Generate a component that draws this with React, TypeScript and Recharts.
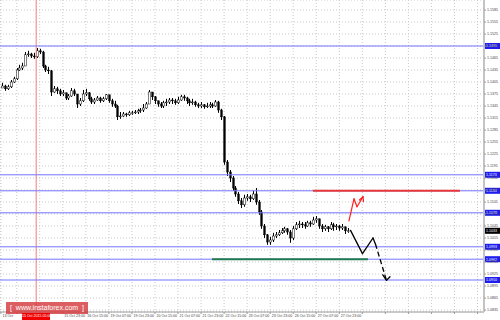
import React from 'react';
import { ComposedChart, Bar, XAxis, YAxis, CartesianGrid, ReferenceLine } from 'recharts';

// EUR/USD, 2-hour candles; open of each candle is the previous close
const closes = [
	1.1395, 1.1388, 1.1393, 1.1405, 1.1413, 1.1435, 1.144, 1.1445, 1.1473, 1.1475,
	1.147, 1.1468, 1.1483, 1.148, 1.1445, 1.1435, 1.1433, 1.138, 1.1388, 1.1383,
	1.1375, 1.1378, 1.1365, 1.137, 1.1383, 1.1375, 1.135, 1.1358, 1.1375, 1.1378,
	1.1363, 1.1355, 1.136, 1.1365, 1.1358, 1.1363, 1.1373, 1.1358, 1.135, 1.1345,
	1.1318, 1.132, 1.1325, 1.1323, 1.1328, 1.1328, 1.133, 1.1333, 1.1335, 1.134,
	1.135, 1.138, 1.1368, 1.1358, 1.135, 1.1345, 1.1353, 1.1355, 1.136, 1.1358,
	1.1353, 1.136, 1.1368, 1.1365, 1.1358, 1.1353, 1.1355, 1.1348, 1.1345, 1.1348,
	1.1343, 1.1345, 1.1348, 1.1345, 1.1355, 1.1335, 1.1318, 1.1205, 1.118, 1.1165,
	1.114, 1.1125, 1.1108, 1.1098, 1.1115, 1.1118, 1.1113, 1.1125, 1.1105, 1.108,
	1.1045, 1.1023, 1.1005, 1.101, 1.102, 1.1023, 1.1028, 1.1033, 1.1038, 1.103,
	1.1015, 1.1038, 1.1048, 1.105, 1.1048, 1.1045, 1.1053, 1.105, 1.106, 1.1063,
	1.1045, 1.1038, 1.1043, 1.1038, 1.1048, 1.1043, 1.1045, 1.104, 1.1043, 1.1033,
	1.1033,
];
const highs = [
	1.1403, 1.1398, 1.1398, 1.141, 1.1418, 1.144, 1.1448, 1.1453, 1.148, 1.1483,
	1.1478, 1.1478, 1.149, 1.1488, 1.1483, 1.1448, 1.1443, 1.1435, 1.1395, 1.1393,
	1.1388, 1.1385, 1.1378, 1.1375, 1.139, 1.1388, 1.1375, 1.1365, 1.1385, 1.1388,
	1.138, 1.1368, 1.1365, 1.137, 1.1368, 1.1368, 1.1375, 1.1373, 1.1363, 1.1358,
	1.1348, 1.133, 1.133, 1.1328, 1.1333, 1.1333, 1.1335, 1.1338, 1.134, 1.135,
	1.1355, 1.1385, 1.138, 1.137, 1.1358, 1.1355, 1.1358, 1.1363, 1.1365, 1.1365,
	1.1363, 1.1368, 1.1373, 1.1373, 1.1368, 1.1363, 1.1363, 1.1358, 1.1353, 1.1355,
	1.135, 1.1353, 1.1355, 1.1353, 1.136, 1.1358, 1.1338, 1.132, 1.121, 1.1185,
	1.117, 1.1145, 1.113, 1.1115, 1.1123, 1.1125, 1.1123, 1.1133, 1.114, 1.111,
	1.1085, 1.105, 1.1025, 1.1018, 1.1028, 1.103, 1.1035, 1.104, 1.1043, 1.104,
	1.1035, 1.1045, 1.1055, 1.1058, 1.1055, 1.1055, 1.1058, 1.1058, 1.1068, 1.107,
	1.1063, 1.105, 1.1048, 1.1045, 1.1055, 1.1053, 1.105, 1.1048, 1.105, 1.1043,
	1.104,
];
const lows = [
	1.139, 1.1383, 1.1385, 1.139, 1.1403, 1.141, 1.1433, 1.1435, 1.1445, 1.1468,
	1.1465, 1.1463, 1.1465, 1.1475, 1.144, 1.143, 1.1425, 1.137, 1.1378, 1.1375,
	1.137, 1.137, 1.136, 1.136, 1.1368, 1.137, 1.134, 1.1345, 1.1355, 1.137,
	1.1358, 1.135, 1.135, 1.1358, 1.1353, 1.1355, 1.136, 1.1353, 1.1343, 1.134,
	1.131, 1.1313, 1.1318, 1.1318, 1.132, 1.1323, 1.1325, 1.1325, 1.1328, 1.133,
	1.1338, 1.135, 1.136, 1.135, 1.1343, 1.134, 1.134, 1.1345, 1.135, 1.135,
	1.1348, 1.135, 1.1358, 1.1358, 1.135, 1.1345, 1.1348, 1.1343, 1.134, 1.134,
	1.1338, 1.134, 1.134, 1.134, 1.1343, 1.1328, 1.131, 1.1198, 1.117, 1.1155,
	1.1133, 1.1118, 1.11, 1.109, 1.1093, 1.1108, 1.1105, 1.111, 1.1098, 1.1073,
	1.1038, 1.1015, 1.0998, 1.0998, 1.1005, 1.1015, 1.102, 1.1025, 1.1028, 1.1023,
	1.1003, 1.101, 1.1035, 1.104, 1.104, 1.1038, 1.1043, 1.1043, 1.1048, 1.1053,
	1.1038, 1.103, 1.1033, 1.103, 1.1035, 1.1033, 1.1035, 1.1033, 1.1035, 1.1025,
	1.1028,
];
const firstOpen = 1.139;
const firstHour = 6; // hours after 13 Oct 23:00 (trading hours only)

const timeTicks = [5, 16, 32, 48, 64, 80, 96, 112, 128, 144, 160, 176, 192, 208, 224, 240, 256, 272, 288, 304, 320, 336];
// the two labels under the red time tag are hidden by it on the chart
const timeLabels = [
	'13 Oct', '', '', '15 Oct 23:00', '16 Oct 15:00', '19 Oct 07:00',
	'19 Oct 23:00', '20 Oct 15:00', '21 Oct 07:00', '21 Oct 23:00', '22 Oct 15:00', '23 Oct 07:00',
	'23 Oct 23:00', '26 Oct 15:00', '27 Oct 07:00', '27 Oct 23:00',
];
const priceTicks = [
	1.1585, 1.1555, 1.1525, 1.1495, 1.1465, 1.1435, 1.1405, 1.1375, 1.1345, 1.1315, 1.1285, 1.1255, 1.1225,
	1.1195, 1.1165, 1.1135, 1.1105, 1.1075, 1.1045, 1.1015, 1.0985, 1.0955, 1.0925, 1.0895, 1.0865, 1.0835,
];
const levels = [1.1495, 1.1173, 1.1133, 1.1078, 1.0993, 1.0962, 1.091];
const lastPrice = 1.1033;
const markerHour = 29.5;
const markerLabel = '15 Oct 2015 05:00';
const resistance = { from: 221.7, to: 323.8, price: 1.1133 };
const support = { from: 151.6, to: 259.9, price: 1.0962 };
const bullPath = [[246.7, 1.1058], [250.2, 1.1113], [252.3, 1.1093], [256.5, 1.1118]];
const bullHead = [[254.0, 1.111], [256.5, 1.1118], [256.8, 1.1106]];
const bearPath = [[247.8, 1.1034], [256.1, 1.0976], [263.4, 1.1015], [265.1, 1.1]];
const bearDash = [[265.1, 1.1], [272.8, 1.0909]];
const bearHead = [[270.2, 1.0923], [272.8, 1.0909], [275.2, 1.0918]];

const chartData = closes.map((c, i) => ({
	t: firstHour + i * 2,
	open: i === 0 ? firstOpen : closes[i - 1],
	high: highs[i],
	low: lows[i],
	close: c,
}));

const Candle = (props: any) => {
	const { x, y, width, height, payload } = props;
	const top = Math.min(y, y + height);
	const bottom = Math.max(y, y + height);
	const { open, close, high, low } = payload;
	const k = high > low ? (bottom - top) / (high - low) : 0;
	const yO = top + (high - open) * k;
	const yC = top + (high - close) * k;
	const cx = Math.round(x + width / 2) + 0.5;
	const bull = close >= open;
	return (
		<g>
			<line x1={cx} x2={cx} y1={top} y2={bottom} stroke="#000" strokeWidth={1} />
			<rect x={cx - 0.8} y={Math.min(yO, yC)} width={1.6} height={Math.max(Math.abs(yO - yC), 0.8)} fill={bull ? '#fff' : '#000'} stroke="#000" strokeWidth={0.5} />
		</g>
	);
};

const TimeTick = (props: any) => {
	const { x, y, payload } = props;
	const idx = timeTicks.indexOf(payload.value);
	const label = timeLabels[idx] ?? '';
	if (!label) return <g />;
	return (
		<text x={x + 1.5} y={y + 3} fontSize={3.6} fill="#444" fontFamily="Liberation Sans, Arial, sans-serif">
			{label}
		</text>
	);
};

const PriceTag = ({ viewBox, value, bg }: any) => {
	if (!viewBox) return null;
	const x = viewBox.x + viewBox.width + 1;
	return (
		<g>
			<rect x={x} y={viewBox.y - 3} width={15} height={6} fill={bg} />
			<text x={x + 1} y={viewBox.y + 1.3} fontSize={3.6} fill="#fff" fontFamily="Liberation Sans, Arial, sans-serif">
				{value.toFixed(4)}
			</text>
		</g>
	);
};

const segments = (pts: number[][], key: string, props: any) =>
	pts.slice(1).map((p, i) => (
		<ReferenceLine
			key={`${key}-${i}`}
			segment={[{ x: pts[i][0], y: pts[i][1] }, { x: p[0], y: p[1] }]}
			strokeLinecap="round"
			{...props}
		/>
	));

export default function App() {
	return (
		<div style={{ position: 'absolute', left: 0, top: 0, width: 500, height: 320, background: '#fff', overflow: 'hidden' }}>
			<ComposedChart width={500} height={320} data={chartData} margin={{ top: 0, right: 0, bottom: 0, left: 0 }}>
				<CartesianGrid stroke="#c9c9c9" strokeDasharray="1 2" />
				<XAxis
					dataKey="t"
					type="number"
					domain={[4.375, 340.5]}
					allowDataOverflow
					ticks={timeTicks}
					height={8}
					tick={<TimeTick />}
					tickSize={2}
					tickMargin={0}
					stroke="#999"
					interval={0}
				/>
				<YAxis
					orientation="right"
					type="number"
					domain={[1.083, 1.161]}
					allowDataOverflow
					ticks={priceTicks}
					width={16}
					interval={0}
					tickSize={2}
					tickMargin={1}
					tickFormatter={(v: number) => v.toFixed(4)}
					tick={{ fontSize: 3.6, fill: '#444', fontFamily: 'Liberation Sans, Arial, sans-serif' }}
					axisLine={{ stroke: '#c4c4c4', strokeWidth: 2 }}
					tickLine={{ stroke: '#999' }}
				/>
				<ReferenceLine x={markerHour} stroke="#f47a7a" />
				{levels.map((v) => (
					<ReferenceLine key={v} y={v} stroke="#7474ff" label={<PriceTag value={v} bg="#1d1df0" />} />
				))}
				<ReferenceLine y={lastPrice} stroke="none" label={<PriceTag value={lastPrice} bg="#000" />} />
				<ReferenceLine segment={[{ x: resistance.from, y: resistance.price }, { x: resistance.to, y: resistance.price }]} stroke="#e8373b" strokeWidth={2} />
				<ReferenceLine segment={[{ x: support.from, y: support.price }, { x: support.to, y: support.price }]} stroke="#1f7a50" strokeWidth={2} />
				<Bar dataKey={(d: any) => [d.low, d.high]} barSize={3} shape={<Candle />} isAnimationActive={false} />
				{segments(bullPath, 'bull', { stroke: '#ff2020', strokeWidth: 1.2 })}
				{segments(bullHead, 'bullh', { stroke: '#ff2020', strokeWidth: 1.2 })}
				{segments(bearPath, 'bear', { stroke: '#000', strokeWidth: 1.3 })}
				{segments(bearDash, 'beard', { stroke: '#000', strokeWidth: 1.3, strokeDasharray: '5 3', strokeLinecap: 'butt' })}
				{segments(bearHead, 'bearh', { stroke: '#000', strokeWidth: 1.3 })}
			</ComposedChart>
			<div
				style={{
					position: 'absolute', left: 6, top: 302, width: 82, height: 12, background: 'rgba(214, 58, 62, 0.82)',
					color: '#fff', fontFamily: 'Liberation Sans, Arial, sans-serif', fontSize: 7, lineHeight: '12px', textAlign: 'center', whiteSpace: 'pre',
				}}
			>
				{'[  www.instaforex.com  ]'}
			</div>
			<div
				style={{
					position: 'absolute', left: 22, top: 313, width: 28, height: 7, background: '#f00000',
					color: '#fff', fontFamily: 'Liberation Sans, Arial, sans-serif', fontSize: 3.6, lineHeight: '6px', textAlign: 'center', whiteSpace: 'nowrap',
				}}
			>
				{markerLabel}
			</div>
		</div>
	);
}
